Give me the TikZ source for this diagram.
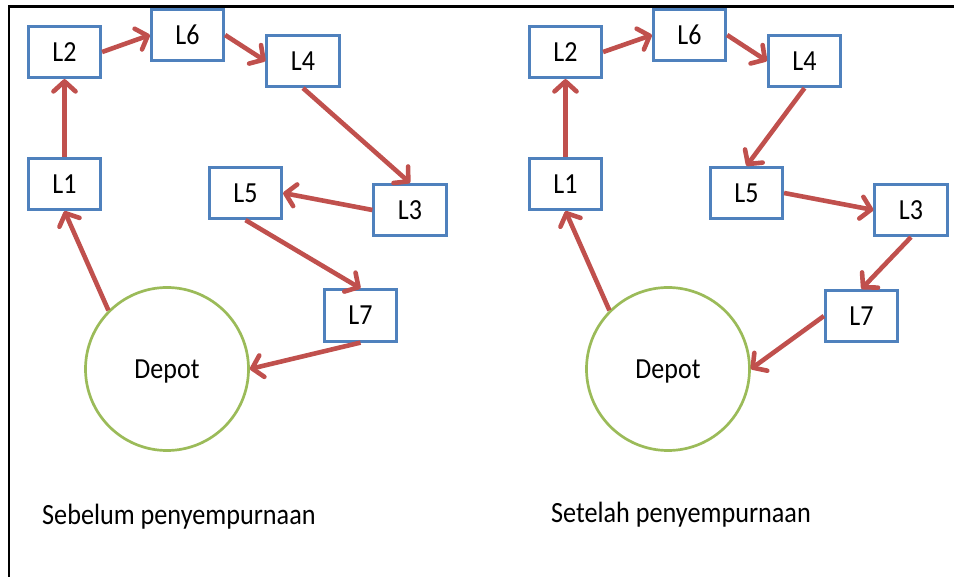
\documentclass[tikz,border=0pt]{standalone}
\usepackage{fontspec}
\setmainfont{Carlito}
\usetikzlibrary{arrows.meta}
\definecolor{boxblue}{HTML}{4F81BD}
\definecolor{arrred}{HTML}{C0504D}
\definecolor{depgreen}{HTML}{9BBB59}
\newcommand{\stxt}[1]{\scalebox{1}[1.12]{#1}}
\begin{document}
\begin{tikzpicture}[x=1pt,y=-1pt,
  loc/.style={draw=boxblue,line width=2.7pt,rectangle,minimum width=72.5pt,minimum height=51.5pt,inner sep=0pt,font=\fontsize{26}{29}\selectfont},
  depot/.style={draw=depgreen,line width=2.7pt,circle,minimum size=163pt,inner sep=0pt,text depth=0pt,font=\fontsize{26}{29}\selectfont},
  route/.style={draw=arrred,line width=4.6pt,-{Straight Barb[length=10pt,width=22pt,line cap=round,line join=round]}},
  caption/.style={anchor=west,inner sep=0pt,font=\fontsize{26.2}{29}\selectfont},
  frame/.style={line width=2.2pt,black}]
\useasboundingbox (0,0) rectangle (954,577);
\draw[frame] (9,577) -- (9,6.5) -- (954,6.5);
% left diagram
\node[loc] (aL2) at (64.5,52) {\stxt{L2}};
\node[loc] (aL6) at (187.5,35) {\stxt{L6}};
\node[loc] (aL4) at (303,61) {\stxt{L4}};
\node[loc] (aL1) at (64.5,184) {\stxt{L1}};
\node[loc] (aL5) at (245.5,193) {\stxt{L5}};
\node[loc] (aL3) at (410,210) {\stxt{L3}};
\node[loc] (aL7) at (360.5,315.5) {\stxt{L7}};
\node[depot] (aD) at (167,369) {\stxt{Depot}};
\draw[route] (aD.135) -- (aL1.south);
\draw[route] (aL1.north) -- (aL2.south);
\draw[route] (aL2.east) -- (aL6.west);
\draw[route] (aL6.east) -- (aL4.west);
\draw[route] (aL4.south) -- (aL3.north);
\draw[route] (aL3.west) -- (aL5.east);
\draw[route] (aL5.south) -- (aL7.north);
\draw[route] (aL7.south) -- (aD.east);
\node[caption] (capA) at (42,517) {\stxt{Sebelum penyempurnaan}};
% right diagram
\node[loc] (bL2) at (565.5,52) {\stxt{L2}};
\node[loc] (bL6) at (689.5,35) {\stxt{L6}};
\node[loc] (bL4) at (804.5,61) {\stxt{L4}};
\node[loc] (bL1) at (565.5,184) {\stxt{L1}};
\node[loc] (bL5) at (746.5,193) {\stxt{L5}};
\node[loc] (bL3) at (911,210) {\stxt{L3}};
\node[loc] (bL7) at (861.5,316) {\stxt{L7}};
\node[depot] (bD) at (668,369) {\stxt{Depot}};
\draw[route] (bD.135) -- (bL1.south);
\draw[route] (bL1.north) -- (bL2.south);
\draw[route] (bL2.east) -- (bL6.west);
\draw[route] (bL6.east) -- (bL4.west);
\draw[route] (bL4.south) -- (bL5.north);
\draw[route] (bL5.east) -- (bL3.west);
\draw[route] (bL3.south) -- (bL7.north);
\draw[route] (bL7.west) -- (bD.east);
\node[caption] (capB) at (551,515) {\stxt{Setelah penyempurnaan}};
\end{tikzpicture}
\end{document}
